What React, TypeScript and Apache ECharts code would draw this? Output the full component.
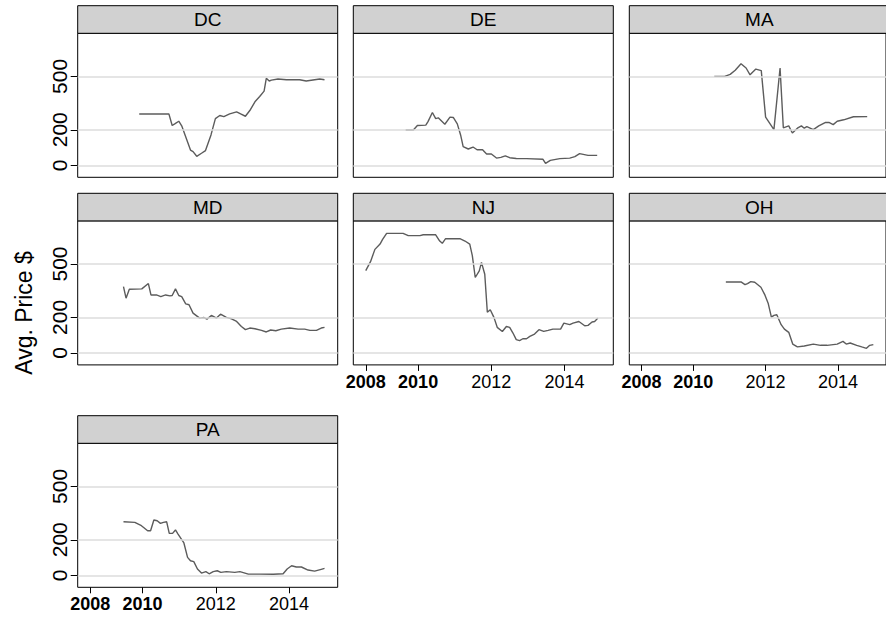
import React, { useEffect, useRef } from "react";
import * as echarts from "echarts";

const panelNames = ["DC", "DE", "MA", "MD", "NJ", "OH", "PA"];

const dcData: number[][] = [
  [2009.91, 289], [2010.72, 289], [2010.81, 224], [2010.88, 233], [2010.99, 248], [2011.07, 222],
  [2011.31, 86], [2011.38, 77], [2011.48, 51], [2011.61, 68], [2011.72, 83], [2011.87, 171],
  [2011.99, 263], [2012.11, 280], [2012.22, 274], [2012.38, 289], [2012.57, 301], [2012.68, 289],
  [2012.81, 276], [2012.93, 308], [2013.07, 357], [2013.2, 387], [2013.32, 417], [2013.38, 489],
  [2013.46, 474], [2013.52, 479], [2013.7, 485], [2013.93, 481], [2014.29, 481], [2014.47, 474],
  [2014.7, 481], [2014.84, 485], [2014.97, 481],
];

const deData: number[][] = [
  [2009.66, 199], [2009.87, 199], [2009.98, 224], [2010.21, 226], [2010.27, 246], [2010.39, 297],
  [2010.48, 263], [2010.55, 267], [2010.73, 231], [2010.87, 271], [2010.96, 269], [2011.07, 233],
  [2011.16, 171], [2011.23, 105], [2011.37, 92], [2011.5, 103], [2011.61, 88], [2011.76, 88],
  [2011.87, 64], [2012.0, 64], [2012.14, 41], [2012.26, 45], [2012.38, 53], [2012.5, 43],
  [2012.68, 39], [2012.96, 38], [2013.41, 34], [2013.48, 11], [2013.61, 28], [2013.87, 38],
  [2014.14, 41], [2014.28, 49], [2014.41, 66], [2014.64, 56], [2014.89, 56],
];

const maData: number[][] = [
  [2010.58, 500], [2010.87, 500], [2011.02, 511], [2011.16, 534], [2011.32, 571], [2011.46, 547],
  [2011.57, 509], [2011.73, 541], [2011.88, 532], [2012.0, 271], [2012.23, 201], [2012.4, 547],
  [2012.49, 211], [2012.64, 222], [2012.74, 182], [2012.88, 209], [2012.99, 222], [2013.07, 209],
  [2013.14, 218], [2013.32, 201], [2013.47, 222], [2013.66, 241], [2013.75, 241], [2013.87, 229],
  [2013.98, 248], [2014.16, 256], [2014.43, 273], [2014.81, 274],
];

const mdData: number[][] = [
  [2009.48, 373], [2009.55, 308], [2009.64, 358], [2009.98, 360], [2010.16, 390], [2010.23, 326],
  [2010.38, 326], [2010.5, 317], [2010.63, 326], [2010.75, 321], [2010.81, 323], [2010.9, 360],
  [2010.99, 323], [2011.07, 317], [2011.18, 276], [2011.27, 271], [2011.38, 224], [2011.56, 196],
  [2011.68, 199], [2011.76, 190], [2011.88, 211], [2012.02, 196], [2012.13, 218], [2012.29, 200],
  [2012.43, 192], [2012.57, 177], [2012.7, 149], [2012.81, 131], [2012.93, 140], [2013.07, 136],
  [2013.25, 127], [2013.38, 118], [2013.5, 129], [2013.64, 125], [2013.79, 134], [2014.02, 140],
  [2014.25, 134], [2014.43, 134], [2014.57, 127], [2014.75, 127], [2014.88, 140], [2014.97, 144],
];

const njData: number[][] = [
  [2008.57, 463], [2008.7, 513], [2008.82, 582], [2008.96, 612], [2009.03, 638], [2009.14, 672],
  [2009.59, 672], [2009.73, 659], [2010.05, 659], [2010.14, 664], [2010.48, 664], [2010.59, 629],
  [2010.66, 616], [2010.75, 642], [2011.14, 642], [2011.28, 629], [2011.41, 612], [2011.48, 547],
  [2011.56, 424], [2011.67, 461], [2011.73, 509], [2011.82, 442], [2011.89, 229], [2011.97, 243],
  [2012.07, 200], [2012.16, 144], [2012.3, 121], [2012.41, 149], [2012.5, 144], [2012.59, 112],
  [2012.68, 75], [2012.77, 69], [2012.86, 80], [2012.96, 80], [2013.05, 93], [2013.18, 106],
  [2013.3, 131], [2013.43, 121], [2013.55, 127], [2013.68, 134], [2013.89, 134], [2013.98, 168],
  [2014.14, 159], [2014.23, 168], [2014.39, 177], [2014.55, 153], [2014.64, 155], [2014.75, 174],
  [2014.82, 177], [2014.91, 196],
];

const ohData: number[][] = [
  [2010.9, 399], [2011.32, 399], [2011.43, 384], [2011.5, 390], [2011.59, 401], [2011.7, 397],
  [2011.87, 369], [2011.98, 326], [2012.07, 280], [2012.16, 201], [2012.23, 211], [2012.31, 215],
  [2012.43, 159], [2012.52, 134], [2012.64, 116], [2012.75, 50], [2012.88, 34], [2013.07, 39],
  [2013.32, 50], [2013.52, 43], [2013.7, 43], [2013.98, 50], [2014.14, 65], [2014.23, 50],
  [2014.34, 56], [2014.52, 43], [2014.66, 34], [2014.79, 26], [2014.88, 43], [2014.98, 47],
];

const paData: number[][] = [
  [2009.48, 301], [2009.79, 298], [2009.97, 279], [2010.14, 251], [2010.22, 251], [2010.31, 311],
  [2010.4, 307], [2010.49, 292], [2010.57, 298], [2010.66, 301], [2010.73, 236], [2010.82, 236],
  [2010.9, 255], [2010.97, 232], [2011.13, 182], [2011.23, 101], [2011.31, 82], [2011.4, 77],
  [2011.5, 36], [2011.61, 13], [2011.73, 21], [2011.82, 9], [2011.93, 21], [2012.04, 26],
  [2012.14, 17], [2012.29, 21], [2012.52, 17], [2012.66, 21], [2012.89, 7], [2013.2, 7],
  [2013.57, 6], [2013.84, 9], [2013.95, 36], [2014.07, 54], [2014.2, 47], [2014.34, 47],
  [2014.52, 30], [2014.7, 24], [2014.88, 34], [2014.97, 39],
];

const panelData = [dcData, deData, maData, mdData, njData, ohData, paData];

const yTickValues = [0, 200, 500];
const xTickValues = [2008.57, 2010, 2012, 2014];
const xTickLabels = ["2008", "2010", "2012", "2014"];
const xBoldLabels = ["2008", "2010"];

const X_MIN = 2008.23;
const X_MAX = 2015.33;
const Y_MIN = -67;
const Y_MAX = 742;

const FONT = "'Liberation Sans', Arial, sans-serif";
const NARROW = "'Liberation Sans Narrow', 'Arial Narrow', 'Liberation Sans', sans-serif";

export default function App() {
  const ref = useRef<HTMLDivElement>(null);

  useEffect(() => {
    if (!ref.current) return;
    const chart = echarts.init(ref.current, null, { renderer: "svg" });

    const colLeft = [77.7, 353.3, 629.3];
    const headerTop = [5.7, 193.3, 415.7];
    const headerH = 27.6;
    const plotW = 260;
    const plotH = 144;

    const showX = [false, false, false, false, true, true, true];

    const grids: any[] = [];
    const xAxes: any[] = [];
    const yAxes: any[] = [];
    const series: any[] = [];
    const graphics: any[] = [];

    panelNames.forEach((name, i) => {
      const r = Math.floor(i / 3);
      const c = i % 3;
      const left = colLeft[c];
      const top = headerTop[r] + headerH;
      grids.push({
        left,
        top,
        width: plotW,
        height: plotH,
        show: true,
        borderColor: "#000",
        borderWidth: 1,
        backgroundColor: "#fff",
      });
      xAxes.push({
        type: "value",
        gridIndex: i,
        position: "bottom",
        min: X_MIN,
        max: X_MAX,
        axisLine: { show: false, onZero: false },
        splitLine: { show: false },
        axisTick: {
          show: showX[i],
          customValues: xTickValues,
          length: 6,
          lineStyle: { color: "#000", width: 1 },
        },
        axisLabel: {
          show: showX[i],
          customValues: xTickValues,
          margin: 8,
          fontSize: 18,
          fontFamily: NARROW,
          color: "#000",
          formatter: (v: number) => {
            let best = 0;
            xTickValues.forEach((t, k) => {
              if (Math.abs(t - v) < Math.abs(xTickValues[best] - v)) best = k;
            });
            const lab = xTickLabels[best];
            return xBoldLabels.includes(lab) ? `{b|${lab}}` : `{n|${lab}}`;
          },
          rich: {
            b: { fontWeight: "bold", fontSize: 18, fontFamily: NARROW, color: "#000" },
            n: { fontWeight: "normal", fontSize: 18, fontFamily: NARROW, color: "#000" },
          },
        },
      });
      yAxes.push({
        type: "value",
        gridIndex: i,
        min: Y_MIN,
        max: Y_MAX,
        axisLine: { show: false, onZero: false },
        splitLine: { show: false },
        axisTick: {
          show: c === 0,
          customValues: yTickValues,
          length: 7,
          lineStyle: { color: "#000", width: 1 },
        },
        axisLabel: {
          show: c === 0,
          customValues: yTickValues,
          rotate: 90,
          margin: 8,
          fontSize: 21,
          fontFamily: NARROW,
          color: "#000",
        },
      });
      series.push({
        type: "line",
        xAxisIndex: i,
        yAxisIndex: i,
        data: [],
        silent: true,
        z: 1,
        markLine: {
          silent: true,
          symbol: ["none", "none"],
          label: { show: false },
          lineStyle: { color: "#dddddd", width: 1.5, type: "solid" },
          data: yTickValues.map((v) => ({ yAxis: v })),
        },
      });
      series.push({
        type: "line",
        name,
        xAxisIndex: i,
        yAxisIndex: i,
        data: panelData[i],
        showSymbol: false,
        symbol: "none",
        z: 3,
        lineStyle: { color: "#5c5c5c", width: 1.4 },
      });
      graphics.push({
        type: "rect",
        shape: { x: left, y: headerTop[r], width: plotW, height: headerH },
        style: { fill: "#d1d1d1", stroke: "#000", lineWidth: 1 },
        z: 10,
      });
      graphics.push({
        type: "text",
        x: left + plotW / 2,
        y: headerTop[r] + headerH / 2,
        style: {
          text: name,
          fontSize: 19,
          fontFamily: FONT,
          fill: "#000",
          align: "center",
          verticalAlign: "middle",
        },
        z: 11,
      });
    });

    graphics.push({
      type: "text",
      x: 24,
      y: 313,
      rotation: Math.PI / 2,
      style: {
        text: "Avg. Price $",
        fontSize: 23,
        fontFamily: FONT,
        fill: "#000",
        align: "center",
        verticalAlign: "middle",
      },
    });

    chart.setOption({
      animation: false,
      backgroundColor: "#fff",
      grid: grids,
      xAxis: xAxes,
      yAxis: yAxes,
      series,
      graphic: graphics,
    });

    return () => chart.dispose();
  }, []);

  return (
    <div
      ref={ref}
      style={{ position: "fixed", left: 0, top: 0, width: 886, height: 619, background: "#fff" }}
    />
  );
}
